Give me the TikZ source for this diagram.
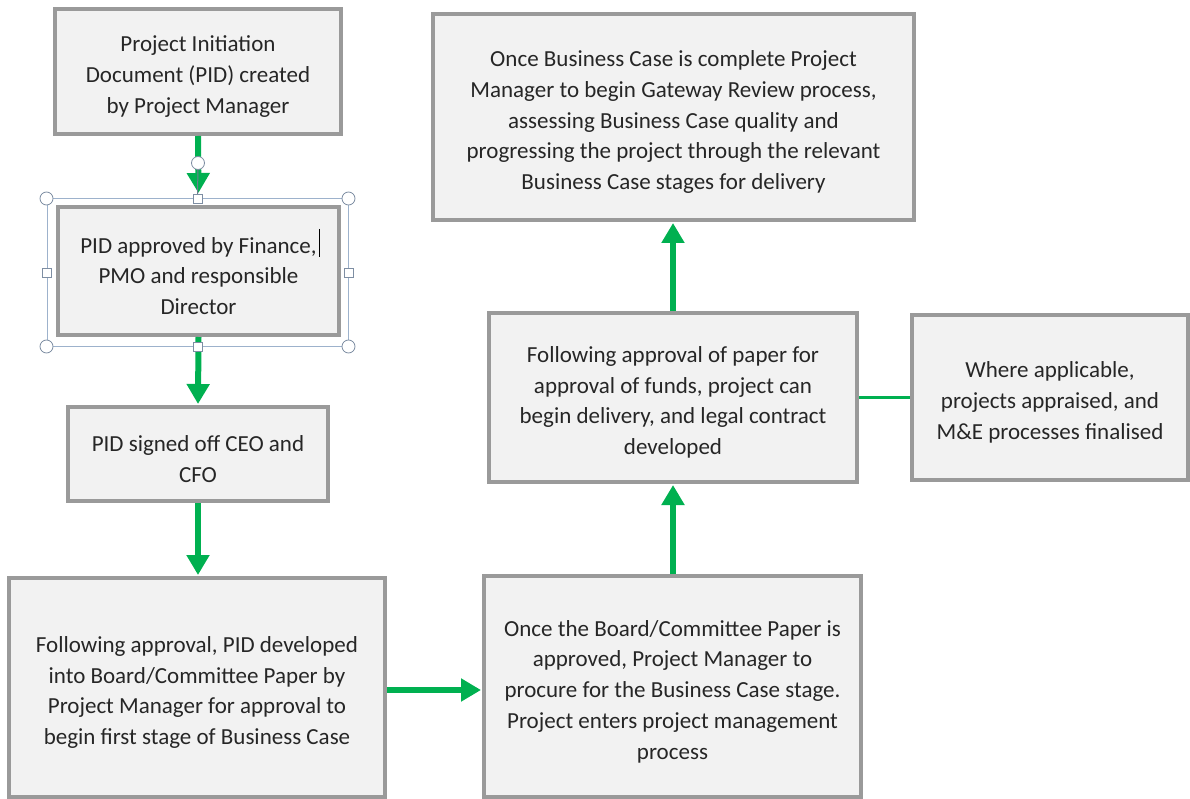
\documentclass[tikz,border=0pt]{standalone}
\usepackage{fontspec}
\setmainfont{Carlito}
\usetikzlibrary{arrows.meta,positioning}
\definecolor{boxfill}{HTML}{F2F2F2}
\definecolor{boxline}{HTML}{9A9A9A}
\definecolor{arrgreen}{HTML}{00B050}
\definecolor{txt}{HTML}{262626}
\definecolor{selline}{HTML}{9DB2CC}
\tikzset{
  x=1pt,y=-1pt,
  box/.style={draw=boxline,line width=4pt,fill=boxfill,inner sep=0pt},
  boxtext/.style={align=center,font=\fontsize{23}{30.7}\selectfont,text=txt,inner sep=0pt},
  flow/.style={draw=arrgreen,line width=6pt,
    -{Triangle[width=22pt,length=20pt]}},
  link/.style={draw=arrgreen,line width=3pt},
  selframe/.style={draw=selline,line width=1pt,inner sep=0pt},
  handlec/.style={circle,draw=selline!80!black,fill=white,line width=0.8pt,minimum size=13pt,inner sep=0pt},
  handles/.style={rectangle,draw=selline!80!black,fill=white,line width=0.8pt,minimum size=9pt,inner sep=0pt},
}
\newcommand{\boxnode}[6]{%
  \node[box,minimum width=#4pt,minimum height=#5pt] (#1) at (#2,#3) {};
  \node[boxtext] (#1t) at ([yshift=-5pt]#1.center) {#6};}
\begin{document}
\begin{tikzpicture}
\useasboundingbox (0,0) rectangle (1190,799);
% boxes
\boxnode{b1}{198}{71.5}{286}{125}
  {Project Initiation\\Document (PID) created\\by Project Manager}
\boxnode{b2}{198.5}{271}{281}{128}
  {PID approved by Finance,\\PMO and responsible\\Director}
\boxnode{b3}{198}{454}{260}{94}
  {PID signed off CEO and\\CFO}
\boxnode{b4}{197}{687.5}{376}{219}
  {Following approval, PID developed\\into Board/Committee Paper by\\Project Manager for approval to\\begin first stage of Business Case}
\boxnode{b5}{672.5}{686.5}{377}{221}
  {Once the Board/Committee Paper is\\approved, Project Manager to\\procure for the Business Case stage.\\Project enters project management\\process}
\boxnode{b6}{673}{397.5}{368}{169}
  {Following approval of paper for\\approval of funds, project can\\begin delivery, and legal contract\\developed}
\boxnode{b7}{673.5}{117}{481}{206}
  {Once Business Case is complete Project\\Manager to begin Gateway Review process,\\assessing Business Case quality and\\progressing the project through the relevant\\Business Case stages for delivery}
\boxnode{b8}{1050}{397.5}{276}{165}
  {Where applicable,\\projects appraised, and\\M\&E processes finalised}
% connectors
\draw[flow,shorten >=12pt] (b1.south) -- (b2.north);
\draw[flow,shorten >=1pt] (b2.south) -- (b3.north);
\draw[flow,shorten >=1pt] (b3.south) -- (b3.south |- b4.north);
\draw[flow,shorten >=1pt] (b4.east |- 0,690) coordinate (h1) -- (h1 -| b5.west);
\draw[flow,shorten >=1pt] (b5.north -| 673,0) coordinate (v1) -- (v1 |- b6.south);
\draw[flow,shorten >=1pt] (b6.north -| 673,0) coordinate (v2) -- (v2 |- b7.south);
\draw[link] (b6.east) -- (b8.west);
% selection frame around b2
\node[selframe,minimum width=301pt,minimum height=147pt] (sel) at (197.5,272.5) {};
\coordinate (rot) at (198,163);
\draw[selline!70!black,line width=1pt] (rot) -- (sel.north);
\node[handlec] (hr) at (rot) {};
\foreach \a in {north west,north east,south west,south east}
  \node[handlec] at (sel.\a) {};
\foreach \a in {north,south,east,west}
  \node[handles] at (sel.\a) {};
% text cursor
\draw[black,line width=1.2pt] (319.5,229) -- (319.5,257);
\end{tikzpicture}
\end{document}
